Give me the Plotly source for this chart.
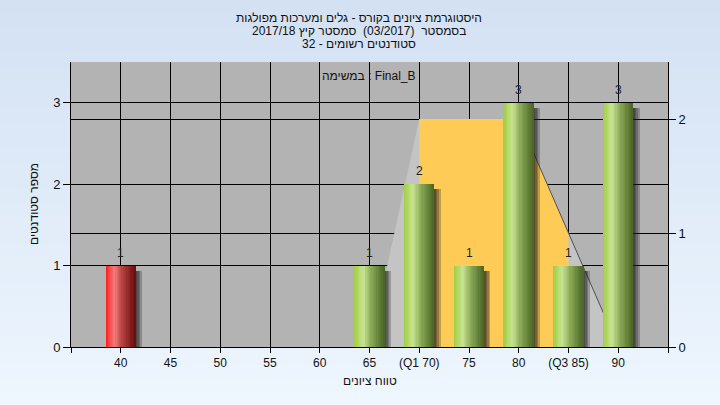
import plotly.graph_objects as go

# ---------------- data ----------------
categories = [40, 45, 50, 55, 60, 65, 70, 75, 80, 85, 90]
tick_labels = ['40', '45', '50', '55', '60', '65', '(Q1 70)', '75', '80', '(Q3 85)', '90']
counts = [1, 0, 0, 0, 0, 1, 2, 1, 3, 1, 3]
failing = [True, False, False, False, False, False, False, False, False, False, False]

curve_x = [65, 70, 75, 80, 85, 90]
curve_y = [0, 2, 2, 2, 1, 0]
iqr_x = [70, 75, 80, 85]
iqr_y = [2, 2, 2, 1]
tail_x = [80, 85, 90]
tail_y = [2, 1, 0]

title_lines = [
    'היסטוגרמת ציונים בקורס - גלים ומערכות מפולגות',
    'בסמסטר  (03/2017)  סמסטר קיץ 2017/18',
    'סטודנטים רשומים - 32',
]
subtitle = 'במשימה : Final_B'
x_title = 'טווח ציונים'
y_title = 'מספר סטודנטים'

# ---------------- styling helpers ----------------
FONT = 'Liberation Sans, Arial, sans-serif'
W, H = 720, 405
ML, MR, MT, MB = 71, 52, 62, 58
PW, PH = W - ML - MR, H - MT - MB


def hex2rgb(h):
    h = h.lstrip('#')
    return tuple(int(h[i:i + 2], 16) for i in (0, 2, 4))


def interp(stops, t):
    for (t0, c0), (t1, c1) in zip(stops, stops[1:]):
        if t0 <= t <= t1:
            a = (t - t0) / (t1 - t0) if t1 > t0 else 0
            r0, r1 = hex2rgb(c0), hex2rgb(c1)
            return 'rgb(%d,%d,%d)' % tuple(round(r0[k] + (r1[k] - r0[k]) * a) for k in range(3))
    return stops[-1][1]


green_stops = [(0, '#9fcd3e'), (0.3, '#c8e393'), (0.55, '#8fae5a'), (1, '#4a6624')]
red_stops = [(0, '#ff1a1a'), (0.3, '#f37c7c'), (0.55, '#b84444'), (1, '#6a0c0c')]

fig = go.Figure()

# distribution area (right axis = main y)
fig.add_trace(go.Scatter(x=curve_x, y=curve_y, mode='lines', fill='tozeroy',
                         fillcolor='#c4c4c4', line=dict(width=0), yaxis='y',
                         hoverinfo='skip', showlegend=False))
fig.add_trace(go.Scatter(x=iqr_x, y=iqr_y, mode='lines', fill='tozeroy',
                         fillcolor='#fecb57', line=dict(width=0), yaxis='y',
                         hoverinfo='skip', showlegend=False))
fig.add_trace(go.Scatter(x=tail_x, y=tail_y, mode='lines',
                         line=dict(color='#505050', width=1), yaxis='y',
                         hoverinfo='skip', showlegend=False))

BAR_W = 3.0
unit_px = PW / 60.0
# shadows
shadow_y = [max(v - 5 / (PH / 3.5), 0) if v > 0 else 0 for v in counts]
for k in range(1, 5):
    fig.add_trace(go.Bar(x=categories, y=shadow_y, yaxis='y2',
                         offset=-BAR_W / 2 + k * 1.6 / unit_px, width=BAR_W,
                         marker=dict(color='rgba(30,30,30,0.27)', line=dict(width=0)),
                         hoverinfo='skip', showlegend=False))
# gradient bar slices
N = 24
sw = BAR_W / N
for i in range(N):
    t = (i + 0.5) / N
    cols = [interp(red_stops if f else green_stops, t) for f in failing]
    fig.add_trace(go.Bar(x=categories, y=counts, yaxis='y2',
                         offset=-BAR_W / 2 + i * sw,
                         width=sw * (1.6 if i < N - 1 else 1.0),
                         marker=dict(color=cols, line=dict(width=0)),
                         hovertemplate='%{x}: %{y}<extra></extra>', showlegend=False))

# background gradient bands + plot area
shapes = []
nb = 30
top_c, bot_c = '#d3e1f3', '#eef6fe'
for b in range(nb):
    y0px = H * b / nb
    y1px = H * (b + 1) / nb + 1
    col = interp([(0, top_c), (1, bot_c)], (b + 0.5) / nb)
    shapes.append(dict(type='rect', xref='paper', yref='paper', layer='below',
                       x0=-ML / PW, x1=(W - ML) / PW,
                       y0=(H - MB - y1px) / PH, y1=(H - MB - y0px) / PH,
                       fillcolor=col, line=dict(width=0)))
shapes.append(dict(type='rect', xref='paper', yref='paper', layer='below',
                   x0=0, x1=1, y0=0, y1=1, fillcolor='#b3b3b3', line=dict(width=0)))


def px_to_paper_y(ypx):
    return (H - MB - ypx) / PH


def px_to_paper_x(xpx):
    return (xpx - ML) / PW


annotations = []
# value labels above bars
for c, v in zip(categories, counts):
    if v > 0:
        annotations.append(dict(text=str(v), xref='x', yref='y2', x=c, y=v,
                                xanchor='center', yanchor='middle', yshift=13,
                                showarrow=False,
                                font=dict(family=FONT, size=12, color='#222222')))
for ln, ypx in zip(title_lines, [18, 31, 44]):
    annotations.append(dict(text=ln, xref='paper', yref='paper', x=px_to_paper_x(359),
                            y=px_to_paper_y(ypx), xanchor='center', yanchor='middle',
                            showarrow=False, font=dict(family=FONT, size=12, color='#111111')))
annotations.append(dict(text=subtitle, xref='paper', yref='paper', x=px_to_paper_x(369),
                        y=px_to_paper_y(76), xanchor='center', yanchor='middle',
                        showarrow=False, font=dict(family=FONT, size=12, color='#111111')))
annotations.append(dict(text=x_title, xref='paper', yref='paper', x=px_to_paper_x(370),
                        y=px_to_paper_y(381), xanchor='center', yanchor='middle',
                        showarrow=False, font=dict(family=FONT, size=12, color='#111111')))
annotations.append(dict(text=y_title, xref='paper', yref='paper', x=px_to_paper_x(34),
                        y=px_to_paper_y(204), xanchor='center', yanchor='middle', textangle=-90,
                        showarrow=False, font=dict(family=FONT, size=12, color='#111111')))

fig.update_layout(
    width=W, height=H,
    margin=dict(l=ML, r=MR, t=MT, b=MB, pad=0),
    paper_bgcolor='#e2ecf8',
    plot_bgcolor='rgba(0,0,0,0)',
    barmode='overlay', bargap=0,
    shapes=shapes, annotations=annotations,
    showlegend=False,
    xaxis=dict(range=[35, 95], tickmode='array',
               tickvals=[35] + categories + [95], ticktext=[''] + tick_labels + [''],
               ticks='outside', ticklen=5, tickcolor='black',
               showline=True, linecolor='black', linewidth=1,
               showgrid=True, gridcolor='black', gridwidth=1, zeroline=False,
               tickfont=dict(family=FONT, size=12, color='#111111'), fixedrange=True),
    yaxis=dict(range=[0, 2.5], side='right', tickmode='array', tickvals=[0, 1, 2],
               ticks='outside', ticklen=7, tickcolor='black',
               showline=True, linecolor='black', linewidth=1,
               showgrid=True, gridcolor='black', gridwidth=1, zeroline=False,
               tickfont=dict(family=FONT, size=13, color='#111111'), fixedrange=True),
    yaxis2=dict(range=[0, 3.5], side='left', overlaying='y', tickmode='array',
                tickvals=[0, 1, 2, 3],
                ticks='outside', ticklen=7, tickcolor='black',
                showline=True, linecolor='black', linewidth=1,
                showgrid=True, gridcolor='black', gridwidth=1, zeroline=False,
                tickfont=dict(family=FONT, size=13, color='#111111'), fixedrange=True),
)

fig.write_html('out.html', config={'displayModeBar': False},
               post_script="document.body.style.margin='0';document.body.style.padding='0';")
